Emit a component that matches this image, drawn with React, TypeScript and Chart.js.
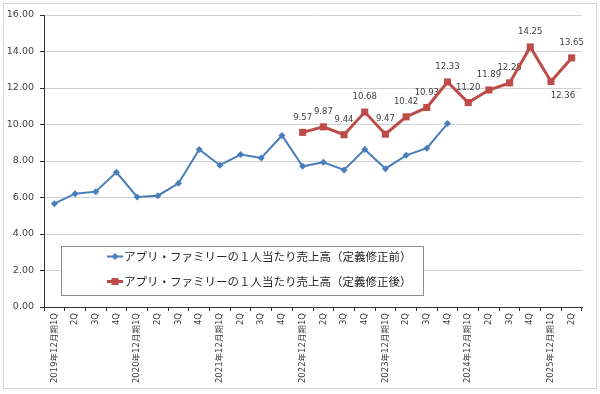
import React, { useEffect, useRef } from "react";
import { Chart, registerables } from "chart.js";

Chart.register(...registerables);

const categories = [
  "2019年12月期1Q", "2Q", "3Q", "4Q",
  "2020年12月期1Q", "2Q", "3Q", "4Q",
  "2021年12月期1Q", "2Q", "3Q", "4Q",
  "2022年12月期1Q", "2Q", "3Q", "4Q",
  "2023年12月期1Q", "2Q", "3Q", "4Q",
  "2024年12月期1Q", "2Q", "3Q", "4Q",
  "2025年12月期1Q", "2Q",
];

const beforeLabel = "アプリ・ファミリーの１人当たり売上高（定義修正前）";
const afterLabel = "アプリ・ファミリーの１人当たり売上高（定義修正後）";

const beforeValues = [
  5.66, 6.21, 6.32, 7.38,
  6.03, 6.10, 6.78, 8.63,
  7.77, 8.35, 8.17, 9.40,
  7.71, 7.93, 7.51, 8.63,
  7.58, 8.31, 8.70, 10.05,
  null, null, null, null,
  null, null,
];

const afterValues = [
  null, null, null, null,
  null, null, null, null,
  null, null, null, null,
  9.57, 9.87, 9.44, 10.68,
  9.47, 10.42, 10.93, 12.33,
  11.20, 11.89, 12.28, 14.25,
  12.36, 13.65,
];

// placement of the data labels of the revised series
const afterLabelPlacement = [
  "", "", "", "", "", "", "", "", "", "", "", "",
  "above", "above", "above", "above",
  "above", "above", "above", "above",
  "above", "above", "above", "above",
  "belowRight", "above",
];

const yTicks = { min: 0, max: 16, step: 2 };

const BLUE = "#4a7ebb";
const RED = "#be4b48";

const bgPlugin = {
  id: "bgBorder",
  beforeDraw(chart: any) {
    const ctx = chart.ctx;
    ctx.save();
    ctx.fillStyle = "#ffffff";
    ctx.fillRect(0, 0, chart.width, chart.height);
    ctx.strokeStyle = "#d9d9d9";
    ctx.lineWidth = 1;
    ctx.strokeRect(3.5, 3.5, 593, 385);
    ctx.restore();
  },
};

const dataLabelPlugin = {
  id: "dataLabels",
  beforeDatasetsDraw(chart: any) {
    const ctx = chart.ctx;
    const meta = chart.getDatasetMeta(1);
    const ds = chart.data.datasets[1];
    ctx.save();
    ctx.font = "8.5px 'DejaVu Sans'";
    ctx.fillStyle = "#404040";
    ctx.textAlign = "center";
    ctx.textBaseline = "middle";
    meta.data.forEach((pt: any, i: number) => {
      const v = ds.data[i];
      if (v === null || v === undefined) return;
      const place = afterLabelPlacement[i];
      let dx = 0;
      let dy = -15;
      if (place === "belowRight") {
        dx = 12;
        dy = 14;
      }
      ctx.fillText(Number(v).toFixed(2), pt.x + dx, pt.y + dy);
    });
    ctx.restore();
  },
};

const legendPlugin = {
  id: "boxLegend",
  afterDraw(chart: any) {
    const ctx = chart.ctx;
    const x0 = 61.5, y0 = 246.5, w = 362, h = 49;
    ctx.save();
    ctx.fillStyle = "#ffffff";
    ctx.fillRect(x0, y0, w, h);
    ctx.strokeStyle = "#8c8c8c";
    ctx.lineWidth = 1;
    ctx.strokeRect(x0, y0, w, h);
    const rows = [256.5, 281.5];
    chart.data.datasets.forEach((ds: any, i: number) => {
      const y = rows[i];
      ctx.strokeStyle = ds.borderColor;
      ctx.lineWidth = i === 0 ? 2 : 3;
      ctx.beginPath();
      ctx.moveTo(107, y);
      ctx.lineTo(123, y);
      ctx.stroke();
      ctx.fillStyle = ds.borderColor;
      if (i === 0) {
        ctx.beginPath();
        ctx.moveTo(115, y - 3.5);
        ctx.lineTo(118.5, y);
        ctx.lineTo(115, y + 3.5);
        ctx.lineTo(111.5, y);
        ctx.closePath();
        ctx.fill();
      } else {
        ctx.fillRect(111.5, y - 3.5, 7, 7);
      }
      ctx.fillStyle = "#262626";
      ctx.font = "11.5px 'Noto Sans CJK JP'";
      ctx.textAlign = "left";
      ctx.textBaseline = "middle";
      ctx.fillText(ds.label, 124, y + 0.5);
    });
    ctx.restore();
  },
};

export default function App() {
  const ref = useRef<HTMLCanvasElement | null>(null);

  useEffect(() => {
    if (!ref.current) return;
    const chart = new Chart(ref.current, {
      type: "line",
      data: {
        labels: categories,
        datasets: [
          {
            label: beforeLabel,
            data: beforeValues,
            borderColor: BLUE,
            backgroundColor: BLUE,
            borderWidth: 2,
            pointStyle: "rectRot",
            pointRadius: 3.5,
            pointBorderWidth: 0,
            pointBackgroundColor: BLUE,
            spanGaps: false,
          },
          {
            label: afterLabel,
            data: afterValues,
            borderColor: RED,
            backgroundColor: RED,
            borderWidth: 3,
            pointStyle: "rect",
            pointRadius: 5,
            pointBorderWidth: 0,
            pointBackgroundColor: RED,
            spanGaps: false,
          },
        ],
      },
      options: {
        responsive: false,
        animation: false,
        devicePixelRatio: 1,
        layout: { padding: { left: 0, top: 15, right: 18, bottom: 0 } },
        plugins: {
          legend: { display: false },
          tooltip: { enabled: false },
          title: { display: false },
        },
        scales: {
          x: {
            type: "category",
            offset: true,
            grid: {
              offset: true,
              drawOnChartArea: false,
              drawTicks: true,
              tickLength: 4,
              tickColor: "#333333",
            },
            border: { display: true, color: "#333333", width: 1 },
            ticks: {
              autoSkip: false,
              minRotation: 90,
              maxRotation: 90,
              padding: 2,
              color: "#404040",
              font: { family: "'DejaVu Sans', 'Noto Sans CJK JP'", size: 8.5 },
            },
            afterFit(scale: any) {
              scale.height = 87;
            },
          },
          y: {
            min: yTicks.min,
            max: yTicks.max,
            grid: {
              color: "#d0d0d0",
              tickColor: "#333333",
              tickLength: 4,
              drawTicks: true,
            },
            border: { display: true, color: "#333333", width: 1 },
            ticks: {
              stepSize: yTicks.step,
              padding: 6,
              color: "#404040",
              font: { family: "'DejaVu Sans'", size: 9.5 },
              callback: (v: any) => Number(v).toFixed(2),
            },
            afterFit(scale: any) {
              scale.width = 44;
            },
          },
        },
      },
      plugins: [bgPlugin, dataLabelPlugin, legendPlugin],
    });
    return () => chart.destroy();
  }, []);

  return (
    <div style={{ position: "absolute", left: 0, top: 0, width: 600, height: 394 }}>
      <canvas ref={ref} width={600} height={394} style={{ display: "block" }} />
    </div>
  );
}
